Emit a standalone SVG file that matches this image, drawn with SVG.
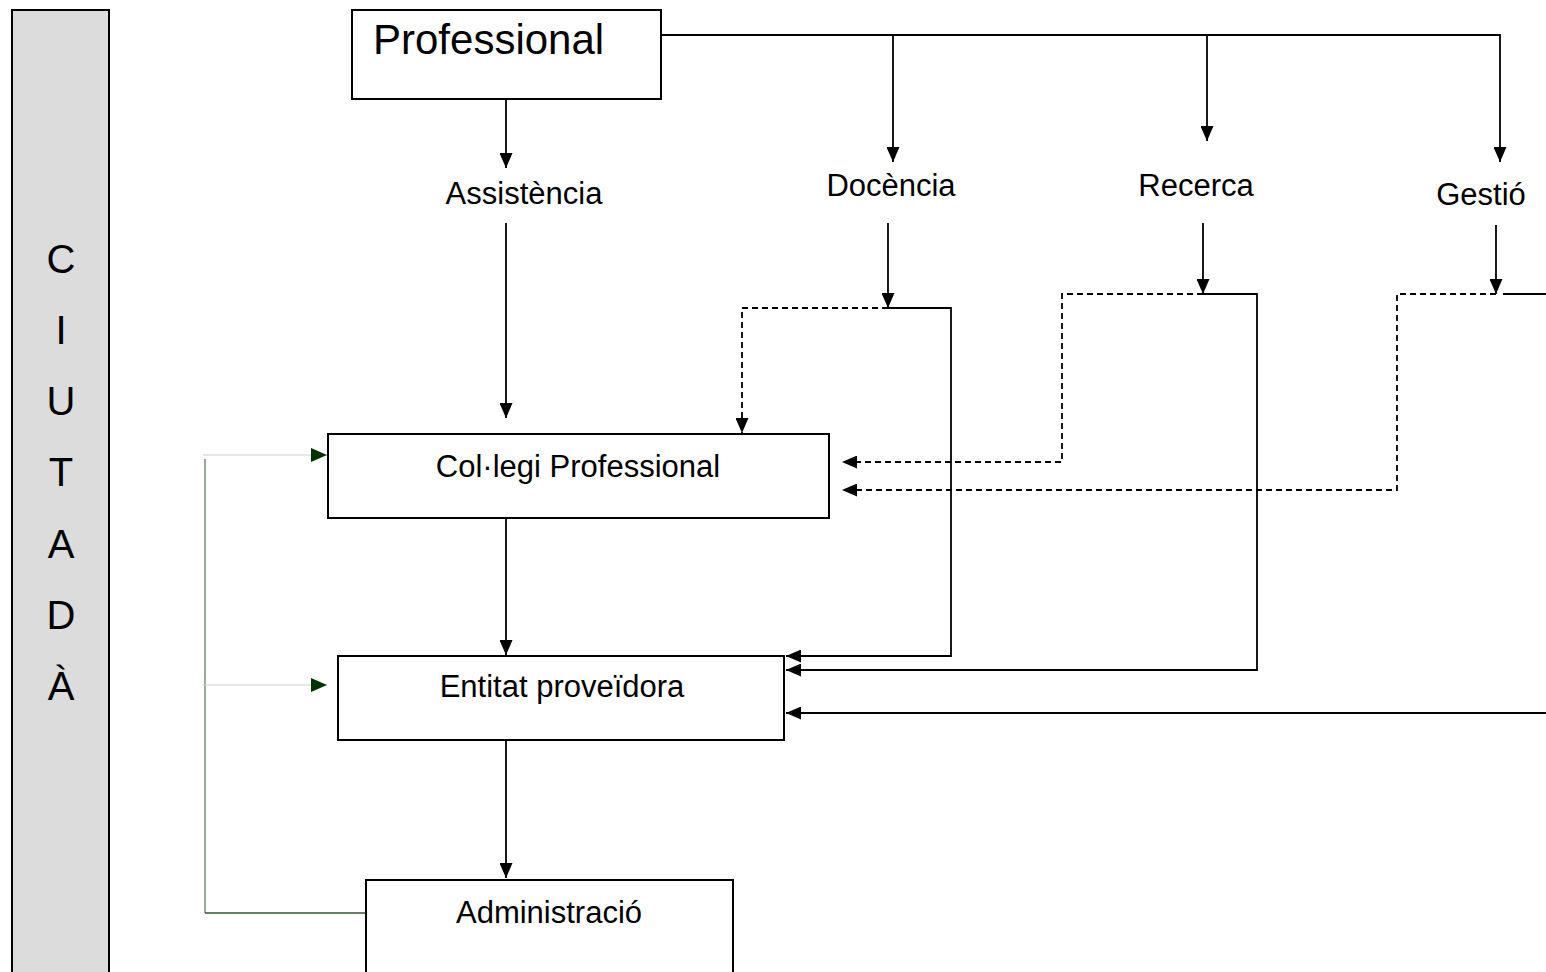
<svg xmlns="http://www.w3.org/2000/svg" width="1546" height="972" viewBox="0 0 1546 972">
<style>
.box{fill:#fff;stroke:#000;stroke-width:2}
.ln{fill:none;stroke:#000;stroke-width:1.8}
.ds{fill:none;stroke:#000;stroke-width:1.8;stroke-dasharray:6 4}
.t{font-family:"Liberation Sans",Arial,sans-serif;fill:#000}
.lb{font-family:"Liberation Sans",Arial,sans-serif;fill:#000;font-size:31px;text-anchor:middle}
</style>
<defs>
<marker id="ah" viewBox="0 0 15 13" refX="15" refY="6.5" markerWidth="15" markerHeight="13" markerUnits="userSpaceOnUse" orient="auto"><path d="M0,0 L15,6.5 L0,13 z" fill="#000"/></marker>
<marker id="gh" viewBox="0 0 16 14" refX="16" refY="7" markerWidth="16" markerHeight="14" markerUnits="userSpaceOnUse" orient="auto"><path d="M0,0 L16,7 L0,14 z" fill="#003300"/></marker>
</defs>
<g id="ciutada">
<rect x="12" y="10" width="97" height="970" fill="#dcdcdc" stroke="#000" stroke-width="2"/>
<g class="t" font-size="40" text-anchor="middle">
<text x="61" y="273">C</text><text x="61" y="344">I</text><text x="61" y="415">U</text><text x="61" y="486">T</text><text x="61" y="558">A</text><text x="61" y="629">D</text><text x="61" y="700">À</text>
</g>
</g>
<g id="connectors">
<path class="ln" d="M661,35 H1500 V162" marker-end="url(#ah)"/>
<path class="ln" d="M893,35 V162" marker-end="url(#ah)"/>
<path class="ln" d="M1207,35 V141" marker-end="url(#ah)"/>
<path class="ln" d="M506,99 V168" marker-end="url(#ah)"/>
<path class="ln" d="M506,223 V418" marker-end="url(#ah)"/>
<path class="ln" d="M888,223 V308" marker-end="url(#ah)"/>
<path class="ln" d="M888,308 H951 V656 H786" marker-end="url(#ah)"/>
<path class="ds" d="M888,308 H742 V433" marker-end="url(#ah)"/>
<path class="ln" d="M1203,223 V294" marker-end="url(#ah)"/>
<path class="ln" d="M1203,294 H1257 V670 H786" marker-end="url(#ah)"/>
<path class="ds" d="M1203,294 H1062 V462 H842" marker-end="url(#ah)"/>
<path class="ln" d="M1496,225 V294" marker-end="url(#ah)"/>
<path class="ln" d="M1503,294 H1546"/>
<path class="ds" d="M1496,294 H1397 V490 H842" marker-end="url(#ah)"/>
<path class="ln" d="M1546,713 H786" marker-end="url(#ah)"/>
<path class="ln" d="M506,518 V655" marker-end="url(#ah)"/>
<path class="ln" d="M506,740 V878" marker-end="url(#ah)"/>
<path d="M205,459 V913" fill="none" stroke="#7a9a7a" stroke-width="1.6"/>
<path d="M205,913 H370" fill="none" stroke="#2f5a2f" stroke-width="1.4"/>
<path d="M203,455 H327" fill="none" stroke="#d0d0d0" stroke-width="1.2" marker-end="url(#gh)"/>
<path d="M203,685 H327" fill="none" stroke="#d0d0d0" stroke-width="1.2" marker-end="url(#gh)"/>
</g>
<g id="professional">
<rect class="box" x="352" y="10" width="309" height="89"/>
<text class="t" x="373" y="54" font-size="42">Professional</text>
</g>
<g id="assistencia"><text class="lb" x="524" y="204">Assistència</text></g>
<g id="docencia"><text class="lb" x="891" y="196">Docència</text></g>
<g id="recerca"><text class="lb" x="1196" y="196">Recerca</text></g>
<g id="gestio"><text class="lb" x="1481" y="205">Gestió</text></g>
<g id="collegi">
<rect class="box" x="328" y="434" width="501" height="84"/>
<text class="lb" x="578" y="477">Col·legi Professional</text>
</g>
<g id="entitat">
<rect class="box" x="338" y="656" width="446" height="84"/>
<text class="lb" x="562" y="697">Entitat proveïdora</text>
</g>
<g id="administracio">
<rect class="box" x="366" y="880" width="367" height="100"/>
<text class="lb" x="549" y="923">Administració</text>
</g>
</svg>
